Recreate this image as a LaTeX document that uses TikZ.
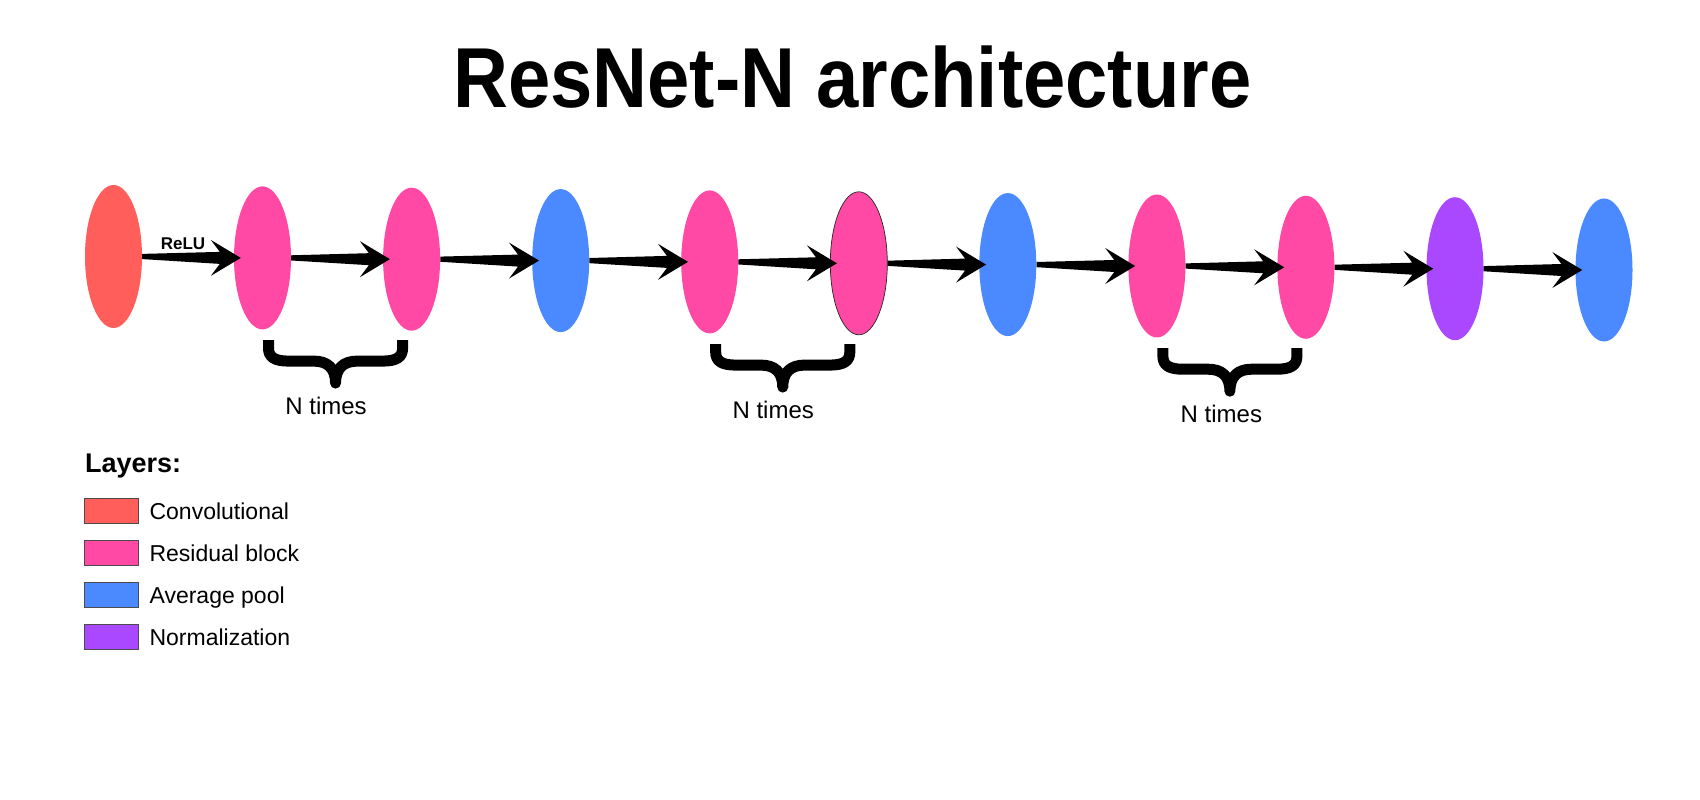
\documentclass[tikz,border=0pt]{standalone}
\usepackage{graphicx}
\usepackage{fontspec}
\setmainfont{Liberation Sans}
\usetikzlibrary{shapes.geometric,positioning,calc}

\definecolor{convred}{RGB}{255,94,91}
\definecolor{respink}{RGB}{255,73,165}
\definecolor{poolblue}{RGB}{74,137,255}
\definecolor{normpurple}{RGB}{170,72,255}

% tapered arrow from one layer to the next
\newcommand{\flowarrow}[2]{%
  \fill[black] ($(#1.east)+(0,2.6)$) -- ($(#2.west)+(-14,6)$) -- ($(#2.west)+(-23,18)$)
    -- ($(#2.west)+(7,0)$) -- ($(#2.west)+(-23,-18)$) -- ($(#2.west)+(-14,-6)$)
    -- ($(#1.east)+(0,-2.6)$) -- cycle;}

% curly brace under two residual blocks
\newcommand{\nbrace}[2]{%
  \draw[bracestroke] let \p1=($(#1.south)+(6,-10.5)$), \p2=($(#2.south)+(-9,-10.5)$), \n1={(\x1+\x2)/2} in
    (\x1,\y1) -- (\x1,\y1-8pt) .. controls (\x1,\y1-17pt) and (\x1+6pt,\y1-21pt) .. (\x1+20pt,\y1-21pt)
    -- (\n1-22pt,\y1-21pt) .. controls (\n1-8pt,\y1-21pt) and (\n1,\y1-28pt) .. (\n1,\y1-43pt)
    .. controls (\n1,\y1-28pt) and (\n1+8pt,\y1-21pt) .. (\n1+22pt,\y1-21pt)
    -- (\x2-20pt,\y1-21pt) .. controls (\x2-6pt,\y1-21pt) and (\x2,\y1-17pt) .. (\x2,\y1-8pt) -- (\x2,\y1);}

\begin{document}
\begin{tikzpicture}[
    x=1pt, y=1pt,
    layer/.style={ellipse, minimum width=57pt, minimum height=143pt, inner sep=0pt},
    convlayer/.style={layer, fill=convred},
    reslayer/.style={layer, fill=respink},
    poollayer/.style={layer, fill=poolblue},
    normlayer/.style={layer, fill=normpurple},
    swatch/.style={rectangle, minimum width=54pt, minimum height=25pt, inner sep=0pt, draw=black!70, line width=0.8pt},
    legtext/.style={font=\fontsize{23}{27}\selectfont, inner sep=0pt, text height=16.5pt, text depth=0pt},
    ntimes/.style={font=\fontsize{24}{28}\selectfont, inner sep=0pt, anchor=base},
    bracestroke/.style={line width=11pt, line join=round}
  ]
    \useasboundingbox (0,0) rectangle (1700,800);

    % Title
    \node[font=\bfseries\fontsize{76}{80}\selectfont, inner sep=0pt, anchor=base] (title) at (852.5,692)
        {\scalebox{1}[1.12]{ResNet-N architecture}};

    % Layers
    \node[convlayer] (conv) at (113.5,543.5) {};
    \node[reslayer] (res1) at (262.5,542.1) {};
    \node[reslayer] (res2) at (411.6,540.8) {};
    \node[poollayer] (pool1) at (560.7,539.4) {};
    \node[reslayer] (res3) at (709.7,538.1) {};
    \node[reslayer, draw=black!85, line width=0.7pt] (res4) at (858.8,536.7) {};
    \node[poollayer] (pool2) at (1007.8,535.4) {};
    \node[reslayer] (res5) at (1156.9,534) {};
    \node[reslayer] (res6) at (1305.9,532.7) {};
    \node[normlayer] (norm) at (1455,531.3) {};
    \node[poollayer] (pool3) at (1604,530) {};

    % Arrows
    \flowarrow{conv}{res1}
    \flowarrow{res1}{res2}
    \flowarrow{res2}{pool1}
    \flowarrow{pool1}{res3}
    \flowarrow{res3}{res4}
    \flowarrow{res4}{pool2}
    \flowarrow{pool2}{res5}
    \flowarrow{res5}{res6}
    \flowarrow{res6}{norm}
    \flowarrow{norm}{pool3}
    \node[font=\bfseries\fontsize{17}{20}\selectfont, inner sep=0pt, anchor=base] (relu) at (183,550) {ReLU};

    % Braces
    \nbrace{res1}{res2}
    \nbrace{res3}{res4}
    \nbrace{res5}{res6}
    \node[ntimes] (times1) at ($(res1.south)!0.5!(res2.south)+(-11,-84)$) {N times};
    \node[ntimes] (times2) at ($(res3.south)!0.5!(res4.south)+(-11,-84)$) {N times};
    \node[ntimes] (times3) at ($(res5.south)!0.5!(res6.south)+(-10,-84)$) {N times};

    % Legend
    \node[font=\bfseries\fontsize{27}{32}\selectfont, inner sep=0pt, anchor=base west] (legtitle) at (85,327) {Layers:};
    \node[swatch, fill=convred] (swconv) at (111,289) {};
    \node[swatch, fill=respink, below=16.2pt of swconv] (swres) {};
    \node[swatch, fill=poolblue, below=16.2pt of swres] (swpool) {};
    \node[swatch, fill=normpurple, below=16.2pt of swpool] (swnorm) {};
    \node[legtext, right=11pt of swconv] (lconv) {Convolutional};
    \node[legtext, right=11pt of swres] (lres) {Residual block};
    \node[legtext, right=11pt of swpool] (lpool) {Average pool};
    \node[legtext, right=11pt of swnorm] (lnorm) {Normalization};
\end{tikzpicture}
\end{document}
